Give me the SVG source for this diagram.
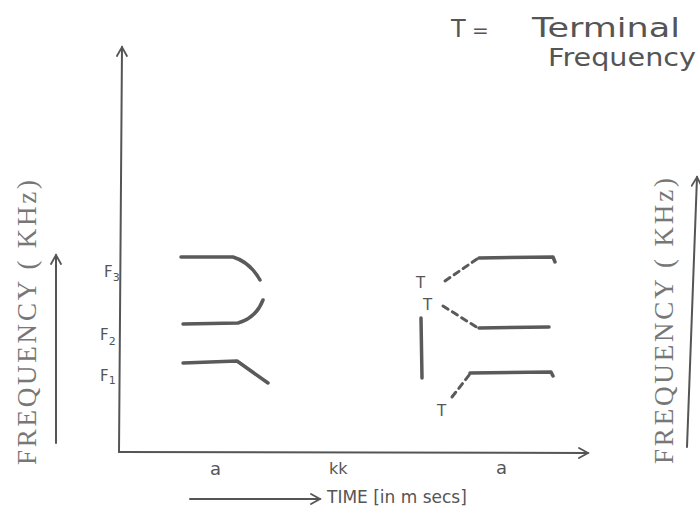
<svg xmlns="http://www.w3.org/2000/svg" width="700" height="506" viewBox="0 0 700 506">
<style>
.ax{stroke:#555;stroke-width:2;fill:none;stroke-linecap:round}
.fm{stroke:#5a5a5a;stroke-width:3.5;fill:none;stroke-linecap:round;stroke-linejoin:round}
.ds{stroke:#5a5a5a;stroke-width:3;fill:none;stroke-dasharray:6 5;stroke-linecap:round}
.hw{font-family:"DejaVu Sans","Liberation Sans",sans-serif;fill:#555}
.tw{font-family:"Liberation Serif","DejaVu Serif",serif;fill:#777;font-size:27px}
</style>
<defs>
<marker id="ah" viewBox="0 0 12 12" refX="10" refY="6" markerWidth="12" markerHeight="12" markerUnits="userSpaceOnUse" orient="auto">
<path d="M1,1 L10,6 L1,11" fill="none" stroke="#555" stroke-width="1.8" stroke-linecap="round"/>
</marker>
</defs>
<g id="axes" class="ax">
<path d="M119,452 L122,47" marker-end="url(#ah)"/>
<path d="M119,452 L588,453" marker-end="url(#ah)"/>
<path d="M56,443 L56,255" marker-end="url(#ah)"/>
<path d="M687,447 L697,177" marker-end="url(#ah)"/>
<path d="M190,499 L320,499" marker-end="url(#ah)"/>
</g>
<g id="labels">
<text class="tw" transform="translate(36,465) rotate(-90)" textLength="285" lengthAdjust="spacing">FREQUENCY  ( KHz)</text>
<text class="tw" transform="translate(673,464) rotate(-90)" textLength="286" lengthAdjust="spacing">FREQUENCY  ( KHz)</text>
<text class="hw" x="451" y="37" font-size="24">T</text>
<text class="hw" x="472" y="37" font-size="20">=</text>
<text class="hw" x="532" y="37" font-size="26" textLength="148" lengthAdjust="spacingAndGlyphs">Terminal</text>
<text class="hw" x="548" y="66" font-size="24" textLength="148" lengthAdjust="spacingAndGlyphs">Frequency</text>
<text class="hw" x="104" y="277" font-size="15">F<tspan font-size="11" dy="4">3</tspan></text>
<text class="hw" x="100" y="340" font-size="15">F<tspan font-size="11" dy="5">2</tspan></text>
<text class="hw" x="100" y="381" font-size="15">F<tspan font-size="11" dy="3">1</tspan></text>
<text class="hw" x="210" y="475" font-size="18">a</text>
<text class="hw" x="329" y="474" font-size="16">kk</text>
<text class="hw" x="496" y="474" font-size="18">a</text>
<text class="hw" x="327" y="503" font-size="17">TIME [in  m secs]</text>
<text class="hw" x="416" y="288" font-size="15">T</text>
<text class="hw" x="423" y="310" font-size="15">T</text>
<text class="hw" x="437" y="416" font-size="15">T</text>
</g>
<g id="left-formants">
<path class="fm" d="M181,257 L233,257 Q250,262 260,280"/>
<path class="fm" d="M183,324 L238,323 Q256,318 263,300"/>
<path class="fm" d="M183,363 L237,361 L268,383"/>
</g>
<g id="right-formants">
<path class="fm" d="M421,318 L422,378"/>
<path class="ds" d="M445,281 L477,259"/>
<path class="fm" d="M479,258 L553,257 L555,262"/>
<path class="ds" d="M443,306 L478,328"/>
<path class="fm" d="M479,328 L549,327"/>
<path class="ds" d="M452,397 L470,374"/>
<path class="fm" d="M470,373 L551,372 L553,376"/>
</g>
</svg>
